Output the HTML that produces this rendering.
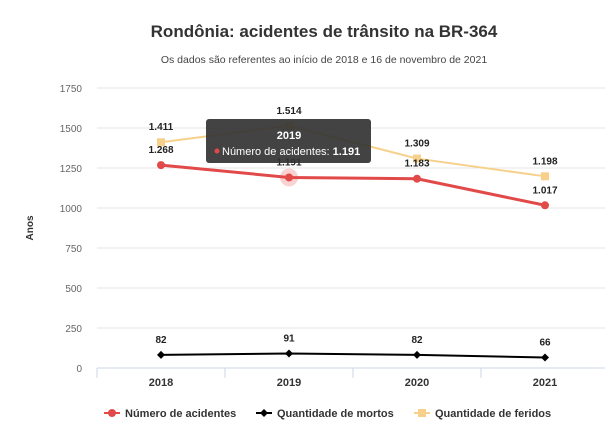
<!DOCTYPE html>
<html><head><meta charset="utf-8"><style>
body{margin:0;background:#fff;width:605px;height:429px;overflow:hidden;font-family:"Liberation Sans",sans-serif}
</style></head><body>
<svg id="c" width="605" height="429" xmlns="http://www.w3.org/2000/svg" font-family="Liberation Sans, sans-serif">
<text x="324" y="37" text-anchor="middle" font-size="17" font-weight="bold" fill="#333">Rondônia: acidentes de trânsito na BR-364</text>
<text x="324" y="63" text-anchor="middle" font-size="10.5" fill="#444">Os dados são referentes ao início de 2018 e 16 de novembro de 2021</text>
<text transform="translate(33,228) rotate(-90)" text-anchor="middle" font-size="10" font-weight="bold" fill="#333">Anos</text>
<g id="grid"></g><g id="series"></g><g id="legend"></g>
</svg>
<script>
const categories=["2018","2019","2020","2021"];
const acidentes=[1268,1191,1183,1017];
const mortos=[82,91,82,66];
const feridos=[1411,1514,1309,1198];
const yTicks=[0,250,500,750,1000,1250,1500,1750];
const NS="http://www.w3.org/2000/svg";
const x0=97,bw=128,yBase=368,yScale=280/1750;
const xp=i=>x0+bw*(i+0.5);
const yp=v=>yBase-v*yScale;
const fmt=v=>v>=1000?String(v).replace(/(\d)(\d{3})$/,"$1.$2"):String(v);
function mk(tag,attrs,parent,text){const e=document.createElementNS(NS,tag);for(const k in attrs)e.setAttribute(k,attrs[k]);if(text!==undefined)e.textContent=text;parent.appendChild(e);return e;}
const grid=document.getElementById('grid'),ser=document.getElementById('series'),leg=document.getElementById('legend');
yTicks.forEach(t=>{
  if(t>0){const l=mk('line',{x1:x0,x2:605,y1:yp(t),y2:yp(t),stroke:'#e6e6e6'},grid);
  
  }
  const tx=mk('text',{x:82,y:yp(t)+4,'text-anchor':'end','font-size':'10',fill:'#666'},grid,String(t));
  
  
});
const ax=mk('line',{x1:x0,x2:605,y1:yBase,y2:yBase,stroke:'#ccd6eb'},grid);


for(let i=0;i<=categories.length;i++){const tk=mk('line',{x1:x0+bw*i,x2:x0+bw*i,y1:yBase,y2:yBase+10,stroke:'#ccd6eb'},grid);

}
categories.forEach((c,i)=>{const t=mk('text',{x:xp(i),y:yBase+18,'text-anchor':'middle','font-size':'11','font-weight':'bold',fill:'#333'},grid,c);

});
function series(vals,color,width,marker,name){
  const p=mk('polyline',{points:vals.map((v,i)=>xp(i)+','+yp(v)).join(' '),fill:'none',stroke:color,'stroke-width':width},ser);
  
  
  vals.forEach((v,i)=>{
    let m;const x=xp(i),y=yp(v);
    if(marker==='circle')m=mk('circle',{cx:x,cy:y,r:4,fill:color},ser);
    else if(marker==='square')m=mk('rect',{x:x-4,y:y-4,width:8,height:8,fill:color},ser);
    else m=mk('path',{d:`M${x},${y-4}L${x+4},${y}L${x},${y+4}L${x-4},${y}Z`,fill:color},ser);
    
    
    const t=mk('text',{x:x,y:y-12,'text-anchor':'middle','font-size':'10','font-weight':'bold',fill:'#222'},ser,fmt(v));
    
    
  });
}
series(feridos,'#f7d18b',2,'square','feridos');
const halo=mk('circle',{cx:xp(1),cy:yp(acidentes[1]),r:9,fill:'#e84c4c',opacity:0.25},ser);


series(acidentes,'#e24a4a',3,'circle','acidentes');
series(mortos,'#000',2,'diamond','mortos');
// tooltip
const tg=mk('g',{},ser);


mk('rect',{x:206,y:119,width:165,height:44,rx:3,fill:'#333',opacity:0.92},tg);
mk('text',{x:289,y:139,'text-anchor':'middle','font-size':'11','font-weight':'bold',fill:'#fff'},tg,categories[1]);
mk('circle',{cx:217,cy:151,r:2.5,fill:'#e24a4a'},tg);
const tt=mk('text',{x:222,y:155,'font-size':'11',fill:'#fff'},tg,'Número de acidentes: ');
mk('tspan',{'font-weight':'bold'},tt,fmt(acidentes[1]));
// legend
[["Número de acidentes","#e24a4a","circle",104],["Quantidade de mortos","#000","diamond",256],["Quantidade de feridos","#f7d18b","square",414]].forEach(([n,c,m,x])=>{
  const g=mk('g',{},leg);
  
  
  const y=413;
  mk('line',{x1:x,x2:x+16,y1:y,y2:y,stroke:c,'stroke-width':2},g);
  if(m==='circle')mk('circle',{cx:x+8,cy:y,r:4,fill:c},g);
  else if(m==='square')mk('rect',{x:x+4,y:y-4,width:8,height:8,fill:c},g);
  else mk('path',{d:`M${x+8},${y-4}L${x+12},${y}L${x+8},${y+4}L${x+4},${y}Z`,fill:c},g);
  mk('text',{x:x+21,y:y+4,'font-size':'11','font-weight':'bold',fill:'#333'},g,n);
});
</script>
</body></html>
